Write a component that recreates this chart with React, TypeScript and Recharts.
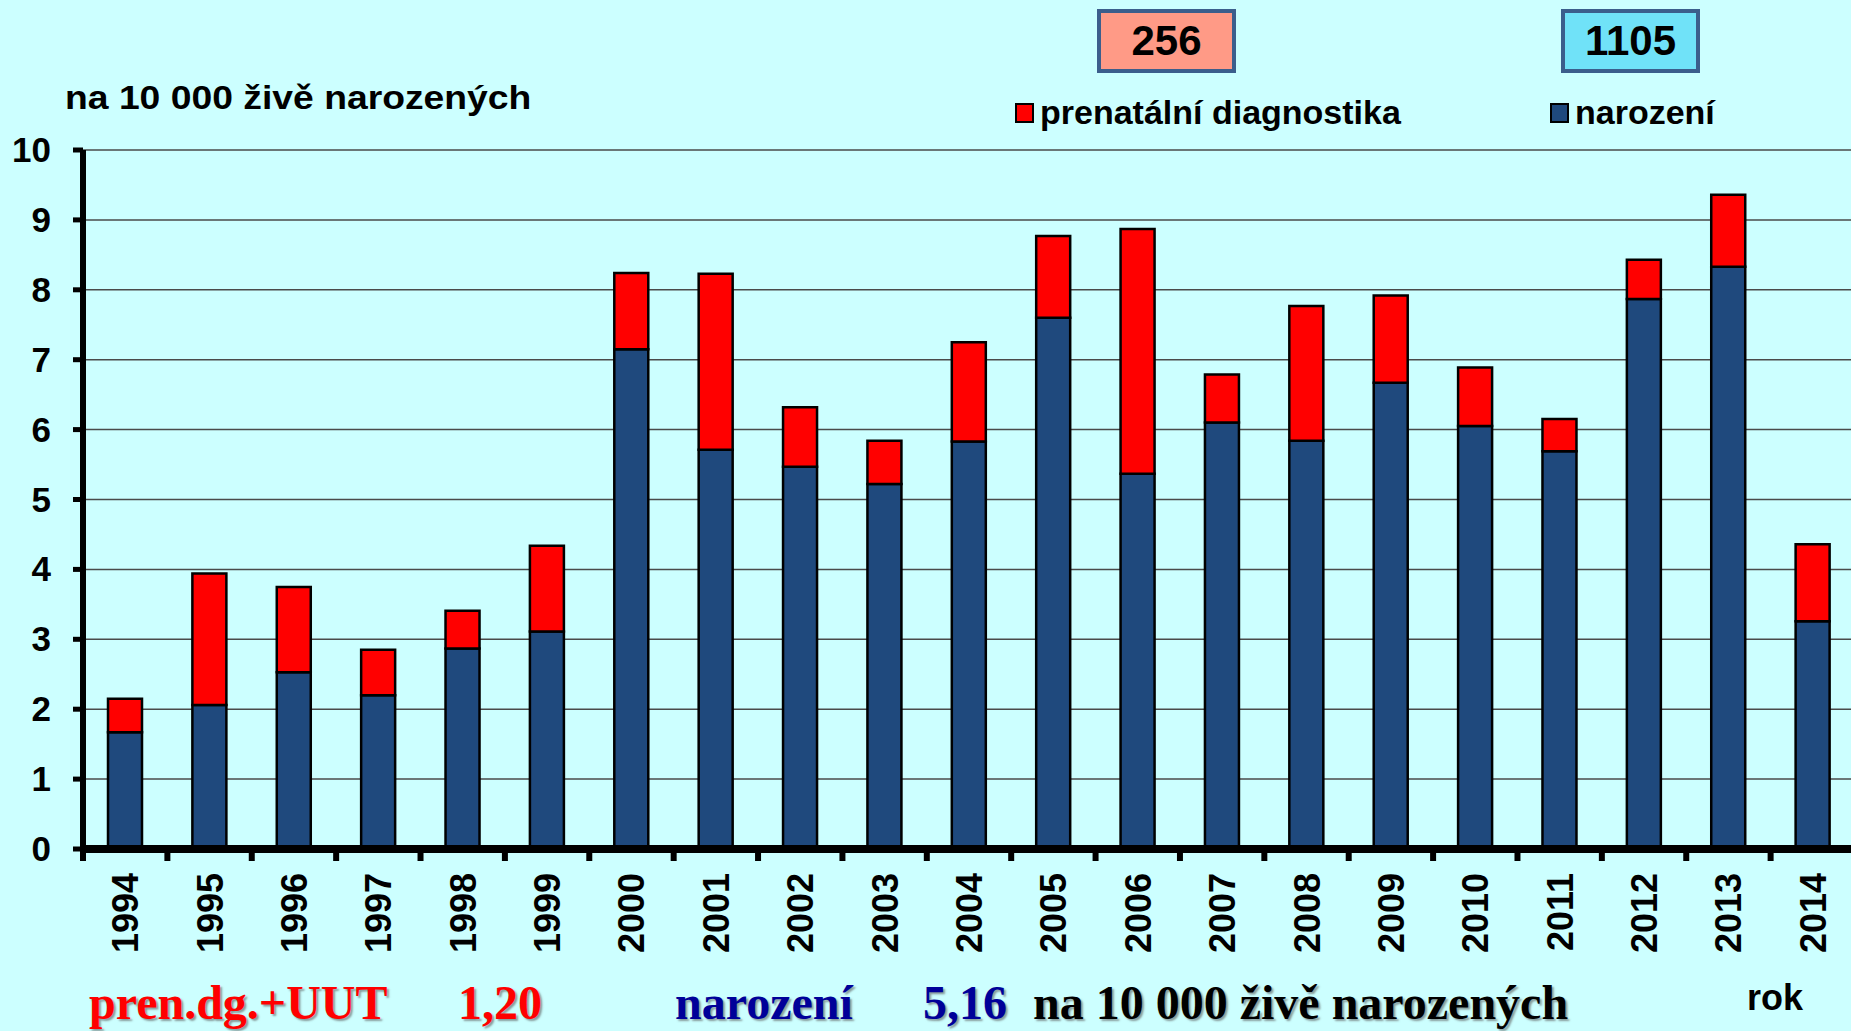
import React from "react";
import { BarChart, Bar, XAxis, YAxis, CartesianGrid, Legend } from "recharts";

const roky = ["1994", "1995", "1996", "1997", "1998", "1999", "2000", "2001", "2002", "2003", "2004", "2005", "2006", "2007", "2008", "2009", "2010", "2011", "2012", "2013", "2014"];
const narozeni = [1.67, 2.06, 2.53, 2.2, 2.87, 3.11, 7.15, 5.71, 5.47, 5.22, 5.83, 7.6, 5.37, 6.1, 5.84, 6.67, 6.05, 5.69, 7.87, 8.33, 3.26];
const prenatalni = [0.48, 1.88, 1.22, 0.65, 0.54, 1.23, 1.09, 2.52, 0.85, 0.62, 1.42, 1.17, 3.5, 0.69, 1.93, 1.25, 0.84, 0.46, 0.56, 1.03, 1.1];
const yTicks = [0, 1, 2, 3, 4, 5, 6, 7, 8, 9, 10];

const souhrnPrenatalni = "256";
const souhrnNarozeni = "1105";

const data = roky.map((rok, i) => ({ rok, narozeni: narozeni[i], prenatalni: prenatalni[i] }));

const W = 1860;
const H = 1031;
const LEFT = 83;
const RIGHT = 5;
const BAND = (W - LEFT - RIGHT) / roky.length;

const sans = "'Liberation Sans', Arial, sans-serif";
const serif = "'Liberation Serif', 'Times New Roman', serif";

function RokTick(props: any) {
  const { x, y, payload, index } = props;
  const bx = x - BAND / 2;
  return (
    <g>
      <line x1={bx} y1={y + 2} x2={bx} y2={y + 12} stroke="#000" strokeWidth={6} />
      {index === roky.length - 1 && (
        <line x1={bx + BAND} y1={y + 2} x2={bx + BAND} y2={y + 12} stroke="#000" strokeWidth={6} />
      )}
      <text
        x={0}
        y={0}
        transform={`translate(${x},${y + 24}) rotate(-90)`}
        textAnchor="end"
        dy={13}
        fontFamily={sans}
        fontWeight="bold"
        fontSize={36}
        fill="#000"
      >
        {payload.value}
      </text>
    </g>
  );
}

function HodnotaTick(props: any) {
  const { y, payload } = props;
  return (
    <text x={51} y={y} dy={12} textAnchor="end" fontFamily={sans} fontWeight="bold" fontSize={35} fill="#000">
      {payload.value}
    </text>
  );
}

function Legenda(props: any) {
  const items = [...(props.payload || [])].reverse();
  const pos = [1015, 1550];
  return (
    <div style={{ position: "relative", height: 0 }}>
      {items.map((it: any, i: number) => (
        <div
          key={it.value}
          style={{ position: "absolute", left: pos[i], top: 0, display: "flex", alignItems: "center", whiteSpace: "nowrap" }}
        >
          <span style={{ display: "inline-block", width: 15, height: 16, background: it.color, border: "2px solid #000", marginRight: 6 }} />
          <span style={{ fontFamily: sans, fontWeight: "bold", fontSize: 34, color: "#000" }}>{it.value}</span>
        </div>
      ))}
    </div>
  );
}

function Box({ left, fill, text }: { left: number; fill: string; text: string }) {
  return (
    <div
      style={{
        position: "absolute",
        left,
        top: 9,
        width: 131,
        height: 56,
        background: fill,
        border: "4px solid #3B5E8C",
        display: "flex",
        alignItems: "center",
        justifyContent: "center",
        fontFamily: sans,
        fontWeight: "bold",
        fontSize: 42,
        color: "#000",
      }}
    >
      {text}
    </div>
  );
}

export default function App() {
  const shadow = "2px 2px 2px rgba(90,90,90,0.6)";
  return (
    <div style={{ position: "fixed", left: 0, top: 0, width: 1851, height: H, overflow: "hidden", background: "#CCFFFF" }}>
      <BarChart width={W} height={H} data={data} margin={{ top: 150, right: RIGHT, bottom: 0, left: 0 }}>
        <CartesianGrid vertical={false} stroke="#4a4a4a" strokeWidth={1.5} />
        <XAxis
          dataKey="rok"
          height={182}
          tickSize={0}
          tickMargin={0}
          interval={0}
          axisLine={{ stroke: "#000", strokeWidth: 8 }}
          tick={<RokTick />}
        />
        <YAxis
          width={LEFT}
          domain={[0, 10]}
          ticks={yTicks}
          interval={0}
          tickSize={10}
          axisLine={{ stroke: "#000", strokeWidth: 6 }}
          tickLine={{ stroke: "#000", strokeWidth: 5 }}
          tick={<HodnotaTick />}
        />
        <Legend
          verticalAlign="top"
          content={<Legenda />}
          wrapperStyle={{ position: "absolute", left: 0, top: 93, width: W, height: 0 }}
        />
        <Bar dataKey="narozeni" name="narození" stackId="a" fill="#1F497D" stroke="#000" strokeWidth={2.5} barSize={34} isAnimationActive={false} />
        <Bar dataKey="prenatalni" name="prenatální diagnostika" stackId="a" fill="#FF0000" stroke="#000" strokeWidth={2.5} barSize={34} isAnimationActive={false} />
      </BarChart>

      <div
        style={{
          position: "absolute",
          left: 65,
          top: 79,
          fontFamily: sans,
          fontWeight: "bold",
          fontSize: 33,
          color: "#000",
          whiteSpace: "nowrap",
          transform: "scaleX(1.13)",
          transformOrigin: "left top",
        }}
      >
        na 10 000 živě narozených
      </div>

      <Box left={1097} fill="#FF9A86" text={souhrnPrenatalni} />
      <Box left={1561} fill="#70E2F8" text={souhrnNarozeni} />

      <div style={{ position: "absolute", left: 1747, top: 977, fontFamily: sans, fontWeight: "bold", fontSize: 36, color: "#000" }}>rok</div>

      <div style={{ position: "absolute", left: 0, top: 975, width: 1700, height: 60, fontFamily: serif, fontWeight: "bold", fontSize: 48, whiteSpace: "nowrap", textShadow: shadow }}>
        <span style={{ position: "absolute", left: 89, color: "#FF0000" }}>pren.dg.+UUT</span>
        <span style={{ position: "absolute", left: 458, color: "#FF0000" }}>1,20</span>
        <span style={{ position: "absolute", left: 675, color: "#000099" }}>narození</span>
        <span style={{ position: "absolute", left: 923, color: "#000099" }}>5,16</span>
        <span style={{ position: "absolute", left: 1033, color: "#000" }}>na 10 000 živě narozených</span>
      </div>
    </div>
  );
}
